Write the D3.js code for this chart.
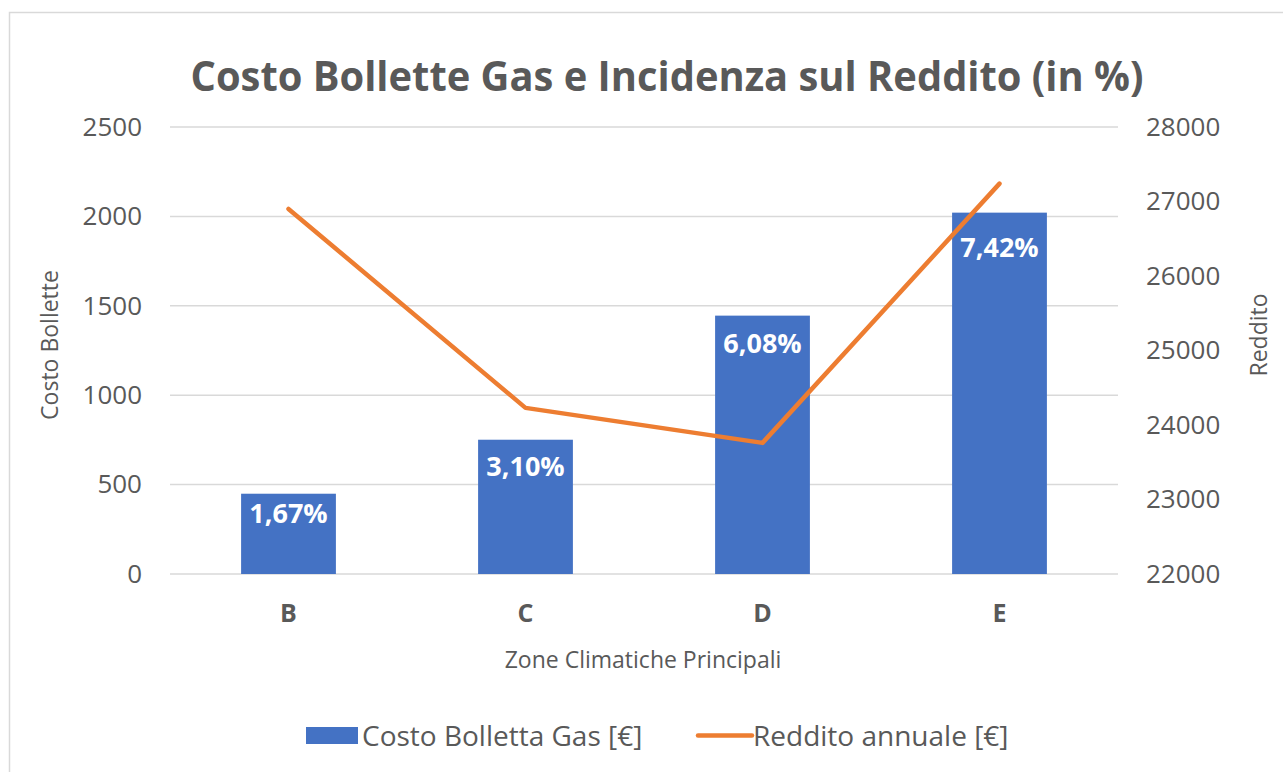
<!DOCTYPE html>
<html>
<head>
<meta charset="utf-8">
<script src="https://cdn.jsdelivr.net/npm/d3@7"></script>
<style>
  body { margin: 0; background: #fff; }
  text { font-family: "Open Sans", sans-serif; }
</style>
</head>
<body>
<script>
var zones = ["B", "C", "D", "E"];
var costoBolletta = [449, 751, 1445, 2021];
var redditoAnnuale = [26900, 24230, 23760, 27240];
var incidenza = ["1,67%", "3,10%", "6,08%", "7,42%"];
var costoTicks = [0, 500, 1000, 1500, 2000, 2500];
var redditoTicks = [22000, 23000, 24000, 25000, 26000, 27000, 28000];

// label baseline offset below the bar top (as in the original)
var labelDy = [29, 36, 37, 44];

var W = 1283, H = 772;
var plot = {left: 170, right: 1118, top: 127, bottom: 574};
var grey = "#595959";

var svg = d3.select("body").append("svg")
    .attr("width", W)
    .attr("height", H);

svg.append("rect")
    .attr("x", 9.5).attr("y", 12.5)
    .attr("width", W + 10).attr("height", H + 10)
    .attr("fill", "#fff")
    .attr("stroke", "#d9d9d9")
    .attr("stroke-width", 1.5);

var xScale = d3.scaleBand().domain(zones)
    .range([plot.left, plot.right])
    .paddingInner(0.6).paddingOuter(0.3);
var yLeft = d3.scaleLinear().domain([0, 2500]).range([plot.bottom, plot.top]);
var yRight = d3.scaleLinear().domain([22000, 28000]).range([plot.bottom, plot.top]);

// gridlines
svg.append("g").selectAll("line")
    .data(costoTicks)
    .enter().append("line")
    .attr("x1", plot.left).attr("x2", plot.right)
    .attr("y1", function(d){ return yLeft(d); })
    .attr("y2", function(d){ return yLeft(d); })
    .attr("stroke", "#d9d9d9")
    .attr("stroke-width", 1.5);

// left axis
var axL = svg.append("g")
    .attr("transform", "translate(" + plot.left + ",0)")
    .call(d3.axisLeft(yLeft).tickValues(costoTicks).tickFormat(d3.format("d")).tickSize(0).tickPadding(28));
axL.select(".domain").remove();
axL.selectAll("text").attr("font-size", 26).attr("fill", grey)
    .style("font-family", "'Open Sans', sans-serif");

// right axis
var axR = svg.append("g")
    .attr("transform", "translate(" + plot.right + ",0)")
    .call(d3.axisRight(yRight).tickValues(redditoTicks).tickFormat(d3.format("d")).tickSize(0).tickPadding(28));
axR.select(".domain").remove();
axR.selectAll("text").attr("font-size", 26).attr("fill", grey)
    .style("font-family", "'Open Sans', sans-serif");

// bottom category axis
var axB = svg.append("g")
    .attr("transform", "translate(0," + plot.bottom + ")")
    .call(d3.axisBottom(xScale).tickSize(0).tickPadding(30));
axB.select(".domain").remove();
axB.selectAll("text").attr("font-size", 25).attr("font-weight", "bold").attr("fill", grey)
    .style("font-family", "'Open Sans', sans-serif");

// bars
svg.append("g").selectAll("rect")
    .data(zones)
    .enter().append("rect")
    .attr("x", function(d){ return xScale(d); })
    .attr("y", function(d, i){ return yLeft(costoBolletta[i]); })
    .attr("width", xScale.bandwidth())
    .attr("height", function(d, i){ return plot.bottom - yLeft(costoBolletta[i]); })
    .attr("fill", "#4472c4");

// data labels
svg.append("g").selectAll("text")
    .data(zones)
    .enter().append("text")
    .attr("x", function(d){ return xScale(d) + xScale.bandwidth() / 2; })
    .attr("y", function(d, i){ return yLeft(costoBolletta[i]) + labelDy[i]; })
    .attr("text-anchor", "middle")
    .attr("font-size", 27)
    .attr("font-weight", "bold")
    .attr("fill", "#fff")
    .text(function(d, i){ return incidenza[i]; });

// line
var line = d3.line()
    .x(function(d, i){ return xScale(zones[i]) + xScale.bandwidth() / 2; })
    .y(function(d){ return yRight(d); });

svg.append("path")
    .datum(redditoAnnuale)
    .attr("d", line)
    .attr("fill", "none")
    .attr("stroke", "#ed7d31")
    .attr("stroke-width", 4.5)
    .attr("stroke-linecap", "round")
    .attr("stroke-linejoin", "round");

// title
svg.append("text")
    .attr("x", 667).attr("y", 91)
    .attr("text-anchor", "middle")
    .attr("font-size", 42)
    .attr("font-weight", "bold")
    .attr("fill", grey)
    .attr("textLength", 953)
    .attr("lengthAdjust", "spacingAndGlyphs")
    .text("Costo Bollette Gas e Incidenza sul Reddito (in %)");

// axis titles
svg.append("text")
    .attr("transform", "translate(58,345) rotate(-90)")
    .attr("text-anchor", "middle")
    .attr("font-size", 23)
    .attr("fill", grey)
    .text("Costo Bollette");

svg.append("text")
    .attr("transform", "translate(1267,335) rotate(-90)")
    .attr("text-anchor", "middle")
    .attr("font-size", 23)
    .attr("fill", grey)
    .text("Reddito");

svg.append("text")
    .attr("x", 643).attr("y", 668)
    .attr("text-anchor", "middle")
    .attr("font-size", 23)
    .attr("fill", grey)
    .text("Zone Climatiche Principali");

// legend
var leg = svg.append("g");
leg.append("rect")
    .attr("x", 306).attr("y", 727)
    .attr("width", 52).attr("height", 17)
    .attr("fill", "#4472c4");
leg.append("text")
    .attr("x", 362).attr("y", 746)
    .attr("font-size", 28)
    .attr("fill", grey)
    .text("Costo Bolletta Gas [€]");
leg.append("line")
    .attr("x1", 698).attr("x2", 752)
    .attr("y1", 735.5).attr("y2", 735.5)
    .attr("stroke", "#ed7d31")
    .attr("stroke-width", 4.5)
    .attr("stroke-linecap", "round");
leg.append("text")
    .attr("x", 753).attr("y", 746)
    .attr("font-size", 28)
    .attr("fill", grey)
    .text("Reddito annuale [€]");
</script>
</body>
</html>
